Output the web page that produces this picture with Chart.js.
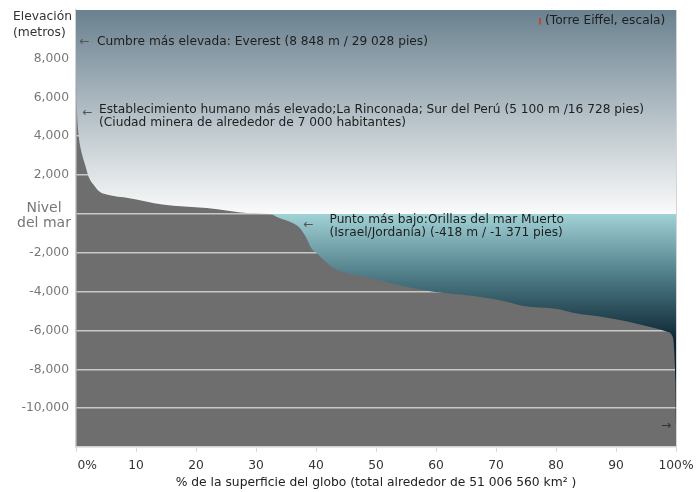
<!DOCTYPE html>
<html>
<head>
<meta charset="utf-8">
<script src="https://cdn.jsdelivr.net/npm/chart.js@4"></script>
<style>
  body { margin: 0; background: #fff; }
  canvas { display: block; }
</style>
</head>
<body>
<canvas id="chart" width="697" height="492"></canvas>
<script>
// hypsometric curve: % of the globe's surface vs elevation (m)
const surfacePct = [0, 0.03, 0.08, 0.15, 0.25, 0.5, 0.9, 1.6, 2.1, 2.9,
    3.9, 5.1, 8.9, 14.4, 21.8, 28.9, 32.3, 33.9, 36.1, 37.3,
    38.4, 39.2, 40.1, 41.2, 42.9, 45.1, 48.4, 53.4, 57.3, 61.8,
    66.2, 71.8, 74.5, 80.2, 82.8, 88.5, 92.8, 96.2, 98.5, 99.5,
    99.7, 99.9, 100];
const elevationM = [8848, 7800, 6400, 5500, 4740, 3870, 3200, 2440, 1920, 1510,
    1150, 1000, 810, 490, 300, 40, 0, -215, -470, -730,
    -1240, -1750, -2010, -2350, -2780, -3040, -3260, -3630, -3890, -4090,
    -4230, -4520, -4740, -4900, -5090, -5340, -5600, -5860, -6060, -6370,
    -7050, -8600, -10900];

const xTickValues = [0, 10, 20, 30, 40, 50, 60, 70, 80, 90, 100];
const xTickLabels = ['\u2002\u2002\u2002 0%', '10', '20', '30', '40', '50', '60', '70', '80', '90', '100%'];
const yTickValues = [-10000, -8000, -6000, -4000, -2000, 0, 2000, 4000, 6000, 8000];
const seaLevelLabel = ['Nivel', 'del mar'];
const yTitle = ['Elevación', '(metros)'];
const xTitle = '% de la superficie del globo (total alrededor de 51 006 560 km² )';

const landGray = '#6e6e6e';
const fontFamily = 'DejaVu Sans';
Chart.defaults.font.family = fontFamily;

function sky_gradient(context) {
    const chart = context.chart;
    const area = chart.chartArea;
    if (!area) return null;
    const zero = chart.scales.y.getPixelForValue(0);
    const frac = (zero - area.top) / (area.bottom - area.top);
    const deep = (chart.scales.y.getPixelForValue(-6500) - area.top) / (area.bottom - area.top);
    const g = chart.ctx.createLinearGradient(0, area.top, 0, area.bottom);
    g.addColorStop(0, '#6a818f');
    g.addColorStop(frac, '#fafbfb');
    g.addColorStop(frac, '#a1d2d6');
    g.addColorStop((frac + deep) / 2, '#4c7a85');
    g.addColorStop(deep, '#0c2633');
    g.addColorStop(1, '#051722');
    return g;
}

function text_at(ctx, str, x, y, color, size, align) {
    ctx.fillStyle = color;
    ctx.font = size + 'px "' + fontFamily + '"';
    ctx.textAlign = align || 'left';
    ctx.textBaseline = 'middle';
    ctx.fillText(str, x, y);
}

const decor = {
    id: 'decor',
    beforeDraw(chart) {
        const ctx = chart.ctx;
        const a = chart.chartArea;
        ctx.save();
        ctx.fillStyle = landGray;
        ctx.fillRect(a.left, a.top, a.right - a.left, a.bottom - a.top);
        ctx.restore();
    },
    afterDraw(chart) {
        const ctx = chart.ctx;
        const a = chart.chartArea;
        const y0 = chart.scales.y.getPixelForValue(0);
        ctx.save();
        // right frame line
        ctx.strokeStyle = '#d4d4d4';
        ctx.lineWidth = 1;
        ctx.beginPath();
        ctx.moveTo(a.right + 0.5, a.top);
        ctx.lineTo(a.right + 0.5, a.bottom);
        ctx.stroke();

        // axis titles
        text_at(ctx, yTitle[0], 13, 17, '#333', 12.3);
        text_at(ctx, yTitle[1], 13, 33, '#333', 12.3);
        text_at(ctx, seaLevelLabel[0], 44, y0 - 6, '#777', 14, 'center');
        text_at(ctx, seaLevelLabel[1], 44, y0 + 9, '#777', 14, 'center');

        // annotations
        const fs = 12.2;
        const ink = '#1e1e1e';
        const arrow = '#555';
        text_at(ctx, '←', 79, 42, arrow, fs);
        text_at(ctx, 'Cumbre más elevada: Everest (8 848 m / 29 028 pies)', 97, 42, ink, fs);
        text_at(ctx, '←', 82, 113, arrow, fs);
        text_at(ctx, 'Establecimiento humano más elevado;La Rinconada; Sur del Perú (5 100 m /16 728 pies)', 99, 110, ink, fs);
        text_at(ctx, '(Ciudad minera de alrededor de 7 000 habitantes)', 99, 122.5, ink, fs);
        text_at(ctx, '←', 303, 225, arrow, fs);
        text_at(ctx, 'Punto más bajo:Orillas del mar Muerto', 329.5, 220, ink, fs);
        text_at(ctx, '(Israel/Jordanía) (-418 m / -1 371 pies)', 329.5, 232.5, ink, fs);
        text_at(ctx, '→', 661, 426, '#333', fs);

        // Eiffel tower to scale
        ctx.strokeStyle = '#e0301e';
        ctx.lineWidth = 1.5;
        ctx.beginPath();
        ctx.moveTo(540, 24.5);
        ctx.lineTo(540, 18);
        ctx.stroke();
        text_at(ctx, '(Torre Eiffel, escala)', 545, 21, ink, fs);
        ctx.restore();
    }
};

const points = surfacePct.map((p, i) => ({ x: p, y: elevationM[i] }));

new Chart(document.getElementById('chart').getContext('2d'), {
    type: 'line',
    data: {
        datasets: [{
            data: points,
            borderWidth: 0,
            borderColor: 'rgba(0,0,0,0)',
            pointRadius: 0,
            cubicInterpolationMode: 'monotone',
            fill: 'end',
            backgroundColor: sky_gradient
        }]
    },
    options: {
        responsive: false,
        animation: false,
        layout: { padding: { top: 10, right: 21, left: 0, bottom: 0 } },
        plugins: { legend: { display: false }, tooltip: { enabled: false } },
        scales: {
            x: {
                type: 'linear',
                min: 0,
                max: 100,
                afterBuildTicks: (scale) => { scale.ticks = xTickValues.map(v => ({ value: v })); },
                afterFit: (scale) => { scale.height = 45; scale.paddingLeft = 0; scale.paddingRight = 0; },
                ticks: {
                    color: '#333',
                    font: { size: 12.3 },
                    padding: 6,
                    maxRotation: 0,
                    callback: (v) => xTickLabels[xTickValues.indexOf(v)]
                },
                grid: { drawOnChartArea: false, tickLength: 5, color: '#d8d8d8' },
                border: { color: '#d0d0d0', width: 1.5 },
                title: {
                    display: true,
                    text: xTitle,
                    color: '#222',
                    font: { size: 12.3 },
                    padding: { top: 0, bottom: 2 }
                }
            },
            y: {
                min: -12000,
                max: 10500,
                afterBuildTicks: (scale) => { scale.ticks = yTickValues.map(v => ({ value: v })); },
                afterFit: (scale) => { scale.width = 76; scale.paddingTop = 0; scale.paddingBottom = 0; },
                ticks: {
                    color: '#777',
                    font: { size: 12.3 },
                    padding: 7,
                    callback: (v) => v === 0 ? '' : v.toLocaleString('en-US')
                },
                grid: { color: '#c8c8c8', lineWidth: 1.5, drawTicks: false },
                border: { color: '#d0d0d0', width: 1.5 }
            }
        }
    },
    plugins: [decor]
});
</script>
</body>
</html>
